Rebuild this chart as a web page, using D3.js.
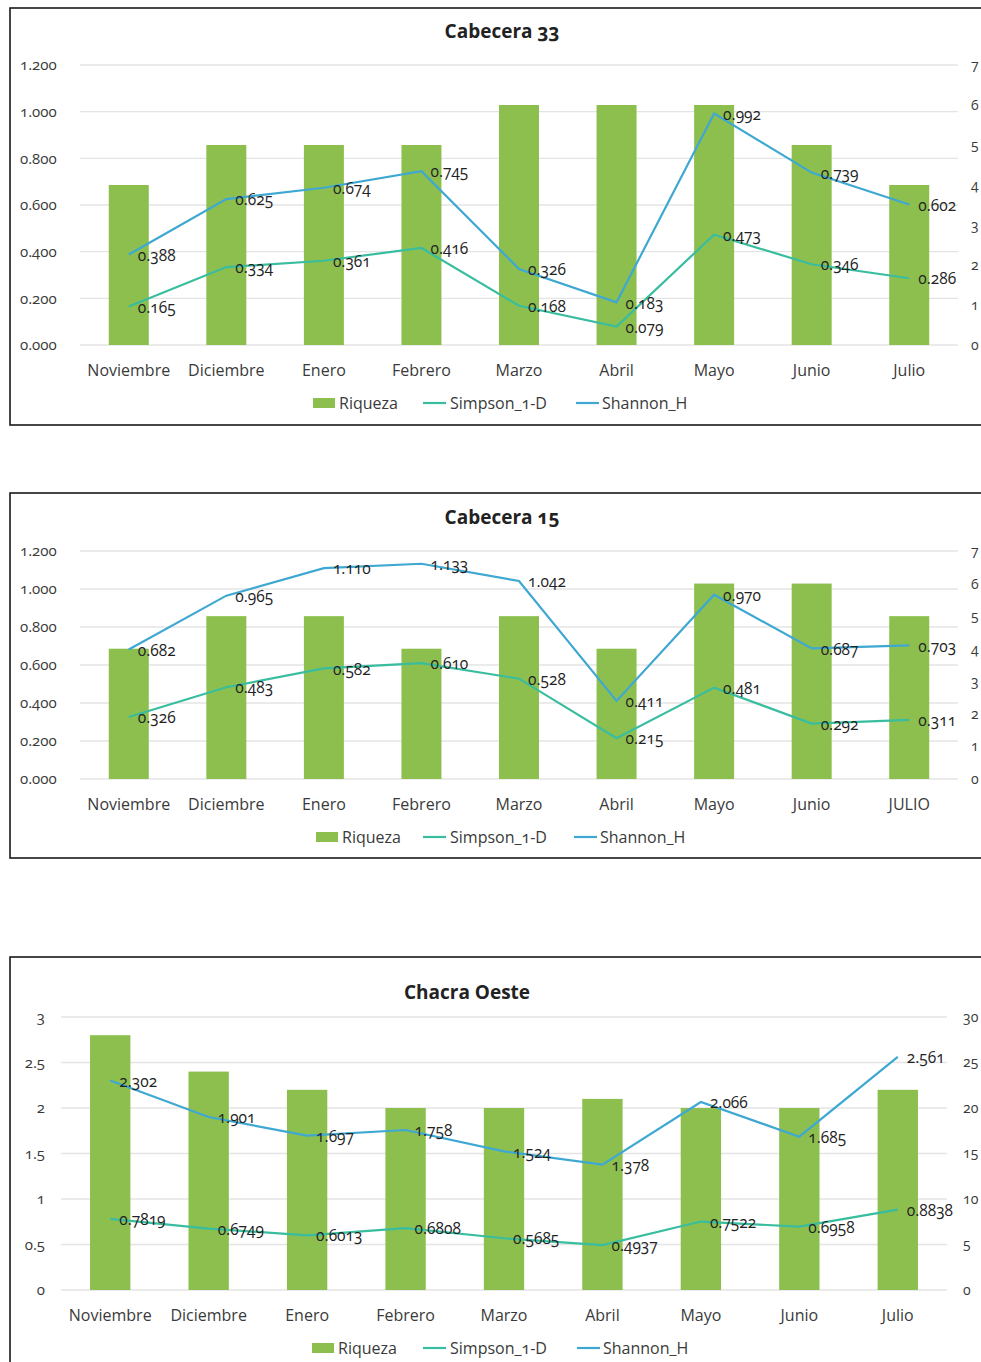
<!DOCTYPE html>
<html><head><meta charset="utf-8">
<script src="https://cdn.jsdelivr.net/npm/d3@7/dist/d3.min.js"></script>
<style>
html,body{margin:0;padding:0;background:#fff;}
svg{display:block;font-family:"Open Sans","Noto Sans",sans-serif;font-variant-numeric:oldstyle-nums;}
</style></head>
<body><svg id="c" width="981" height="1362"></svg>
<script>
const months1 = ["Noviembre","Diciembre","Enero","Febrero","Marzo","Abril","Mayo","Junio","Julio"];
const months2 = ["Noviembre","Diciembre","Enero","Febrero","Marzo","Abril","Mayo","Junio","JULIO"];
const months3 = ["Noviembre","Diciembre","Enero","Febrero","Marzo","Abril","Mayo","Junio","Julio"];

const riqueza1 = [4,5,5,5,6,6,6,5,4];
const simpson1 = [0.165,0.334,0.361,0.416,0.168,0.079,0.473,0.346,0.286];
const shannon1 = [0.388,0.625,0.674,0.745,0.326,0.183,0.992,0.739,0.602];

const riqueza2 = [4,5,5,4,5,4,6,6,5];
const simpson2 = [0.326,0.483,0.582,0.610,0.528,0.215,0.481,0.292,0.311];
const shannon2 = [0.682,0.965,1.110,1.133,1.042,0.411,0.970,0.687,0.703];

const riqueza3 = [28,24,22,20,20,21,20,20,22];
const simpson3 = [0.7819,0.6749,0.6013,0.6808,0.5685,0.4937,0.7522,0.6958,0.8838];
const shannon3 = [2.302,1.901,1.697,1.758,1.524,1.378,2.066,1.685,2.561];
const simpsonLabels3 = ["0.7819","0.6749","0.6013","0.6808","0.5685","0.4937","0.7522","0.6958","0.8838"];
const shannonLabels3 = ["2.302","1.901","1.697","1.758","1.524","1.378","2.066","1.685","2.561"];

const leftTicks12 = [0,0.2,0.4,0.6,0.8,1.0,1.2];
const rightTicks12 = [0,1,2,3,4,5,6,7];
const leftTicks3 = [0,0.5,1,1.5,2,2.5,3];
const rightTicks3 = [0,5,10,15,20,25,30];
const seriesNames = ["Riqueza","Simpson_1-D","Shannon_H"];

const GREEN="#8dbf4f", TEAL="#38bd9f", BLUE="#3ea8d2", GRID="#e4e4e4", TXT="#3a3a3a";
const svg = d3.select("#c");

function chart(o){
  const g = svg.append("g");
  g.append("rect").attr("x",o.frame[0]).attr("y",o.frame[1]).attr("width",o.frame[2]).attr("height",o.frame[3])
    .attr("fill","#fff").attr("stroke","#1a1a1a").attr("stroke-width",1.6);
  g.append("text").attr("x",o.titleX).attr("y",o.titleY).attr("text-anchor","middle")
    .attr("font-size",19).attr("font-weight","bold").attr("fill","#222").text(o.title);
  const x = d3.scaleBand().domain(o.cats).range([o.x0,o.x1]).paddingInner(0.59).paddingOuter(0.295);
  const yL = d3.scaleLinear().domain([0,o.leftMax]).range([o.yb,o.yt]);
  const yR = d3.scaleLinear().domain([0,o.rightMax]).range([o.yb,o.yt]);
  g.selectAll(".grid").data(o.leftTicks).join("line")
    .attr("x1",o.x0).attr("x2",o.x1).attr("y1",d=>yL(d)).attr("y2",d=>yL(d))
    .attr("stroke",GRID).attr("stroke-width",1.3);
  const la = g.append("g").attr("transform",`translate(${o.leftLabelX},0)`)
    .call(d3.axisLeft(yL).tickValues(o.leftTicks).tickSize(0).tickPadding(0).tickFormat(o.leftFmt))
    .attr("font-family",null).attr("font-size",null);
  la.select(".domain").remove();
  la.selectAll("text").attr("text-anchor",o.leftAnchor).attr("font-size",15).attr("fill",TXT);
  const ra = g.append("g").attr("transform",`translate(${o.rightLabelX},0)`)
    .call(d3.axisRight(yR).tickValues(o.rightTicks).tickSize(0).tickPadding(0).tickFormat(d3.format("d")))
    .attr("font-family",null).attr("font-size",null);
  ra.select(".domain").remove();
  ra.selectAll("text").attr("font-size",14).attr("fill",TXT);
  g.selectAll(".bar").data(o.riq).join("rect")
    .attr("x",(d,i)=>x(o.cats[i])).attr("width",x.bandwidth())
    .attr("y",d=>yR(d)).attr("height",d=>yR(0)-yR(d)).attr("fill",GREEN);
  const xa = g.append("g").attr("transform",`translate(0,${o.xLabelY})`)
    .call(d3.axisBottom(x).tickSize(0).tickPadding(0))
    .attr("font-family",null).attr("font-size",null);
  xa.select(".domain").remove();
  xa.selectAll("text").attr("font-size",16).attr("fill",TXT).attr("dy","0.35em");
  const cx = i=>x(o.cats[i])+x.bandwidth()/2;
  const line = d3.line().x((d,i)=>cx(i)).y(d=>yL(d));
  [[o.sim,TEAL,o.simLab],[o.sha,BLUE,o.shaLab]].forEach(([vals,col,labs])=>{
    g.append("path").datum(vals).attr("d",line).attr("fill","none").attr("stroke",col).attr("stroke-width",2.2);
    g.selectAll(null).data(vals).join("text")
      .attr("x",(d,i)=>cx(i)+9).attr("y",d=>yL(d)).attr("dy","0.4em")
      .attr("font-size",15.5).attr("fill","#222").text((d,i)=>labs?labs[i]:d3.format(".3f")(d));
  });
  const ly=o.legY;
  const lg=g.append("g");
  lg.append("rect").attr("x",o.leg[0]).attr("y",ly-5).attr("width",22).attr("height",10).attr("fill",GREEN);
  lg.append("text").attr("x",o.leg[0]+26).attr("y",ly).attr("dy","0.35em").attr("font-size",16).attr("fill",TXT).text(seriesNames[0]);
  lg.append("line").attr("x1",o.leg[1]).attr("x2",o.leg[1]+23).attr("y1",ly).attr("y2",ly).attr("stroke",TEAL).attr("stroke-width",2.2);
  lg.append("text").attr("x",o.leg[1]+27).attr("y",ly).attr("dy","0.35em").attr("font-size",16).attr("fill",TXT).text(seriesNames[1]);
  lg.append("line").attr("x1",o.leg[2]).attr("x2",o.leg[2]+23).attr("y1",ly).attr("y2",ly).attr("stroke",BLUE).attr("stroke-width",2.2);
  lg.append("text").attr("x",o.leg[2]+26).attr("y",ly).attr("dy","0.35em").attr("font-size",16).attr("fill",TXT).text(seriesNames[2]);
}
const f3 = d3.format(".3f");
chart({frame:[10,8,1000,417],title:"Cabecera 33",titleX:502,titleY:38,cats:months1,x0:80,x1:958,yt:65,yb:345,
  leftMax:1.2,rightMax:7,leftTicks:leftTicks12,rightTicks:rightTicks12,leftFmt:f3,leftLabelX:20,leftAnchor:"start",rightLabelX:971,
  riq:riqueza1,sim:simpson1,sha:shannon1,xLabelY:370,legY:403,leg:[313,423,576]});
chart({frame:[10,493,1000,365],title:"Cabecera 15",titleX:502,titleY:524,cats:months2,x0:80,x1:958,yt:551,yb:779,
  leftMax:1.2,rightMax:7,leftTicks:leftTicks12,rightTicks:rightTicks12,leftFmt:f3,leftLabelX:20,leftAnchor:"start",rightLabelX:971,
  riq:riqueza2,sim:simpson2,sha:shannon2,xLabelY:804,legY:837,leg:[316,423,574]});
chart({frame:[10,957,1000,420],title:"Chacra Oeste",titleX:467,titleY:999,cats:months3,x0:61,x1:947,yt:1017,yb:1290,
  leftMax:3,rightMax:30,leftTicks:leftTicks3,rightTicks:rightTicks3,leftFmt:d3.format("~g"),leftLabelX:45,leftAnchor:"end",rightLabelX:963,
  riq:riqueza3,sim:simpson3,sha:shannon3,simLab:simpsonLabels3,shaLab:shannonLabels3,xLabelY:1315,legY:1348,leg:[312,423,577]});
</script></body></html>
